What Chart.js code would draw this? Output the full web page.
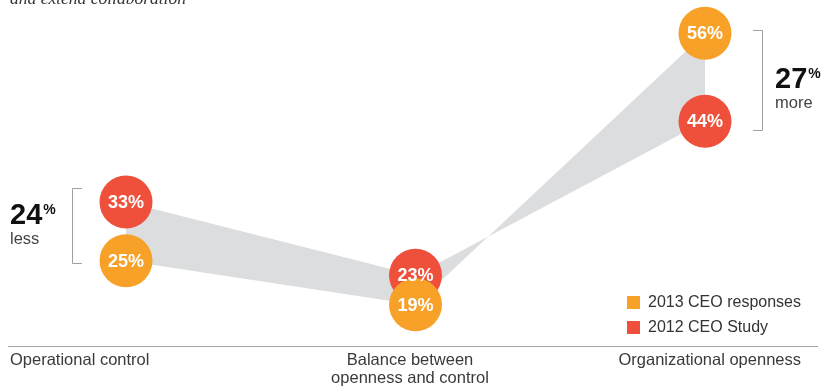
<!DOCTYPE html>
<html><head><meta charset="utf-8">
<script src="https://cdn.jsdelivr.net/npm/chart.js@4.4.1/dist/chart.umd.min.js"></script>
<style>html,body{margin:0;padding:0;background:#fff;}#wrap{position:relative;width:826px;height:388px;}</style>
</head><body><div id="wrap"><canvas id="c" width="826" height="388"></canvas></div>
<script>
const introText = 'and extend collaboration';
const categories = ['Operational control', ['Balance between', 'openness and control'], 'Organizational openness'];
const seriesNames = ['2013 CEO responses', '2012 CEO Study'];
const series2013 = [25, 19, 56];
const series2012 = [33, 23, 44];
const changeWords = ['less', 'more'];

const ORANGE = '#f7a128';
const RED = '#ef503b';
const BAND = '#dcdddf';
const FONT = '"Liberation Sans", Arial, sans-serif';

// change of 2013 relative to 2012 baseline
function pctChange(v2013, v2012) { return Math.round(Math.abs(v2013 - v2012) / v2012 * 100); }

const decor = {
  id: 'decor',
  afterDatasetsDraw(chart) {
    const ctx = chart.ctx;
    ctx.save();
    ctx.fillStyle = '#fff';
    ctx.font = 'bold 18px ' + FONT;
    ctx.textAlign = 'center';
    ctx.textBaseline = 'middle';
    [1, 0].forEach(di => {
      const meta = chart.getDatasetMeta(di);
      const data = chart.data.datasets[di].data;
      meta.data.forEach((pt, i) => {
        ctx.fillText(data[i] + '%', pt.x, pt.y + 1);
      });
    });
    ctx.restore();
  },
  afterDraw(chart) {
    const ctx = chart.ctx;
    ctx.save();
    // intro text (cut off at top)
    ctx.fillStyle = '#333';
    ctx.font = 'italic 17.5px "Liberation Serif", serif';
    ctx.textAlign = 'left';
    ctx.textBaseline = 'alphabetic';
    ctx.fillText(introText, 10, 4);

    // baseline
    ctx.strokeStyle = '#a6a6a6';
    ctx.lineWidth = 1;
    ctx.beginPath();
    ctx.moveTo(8, 346.5);
    ctx.lineTo(818, 346.5);
    ctx.stroke();

    // category labels
    ctx.fillStyle = '#3a3a3a';
    ctx.font = '16.5px ' + FONT;
    ctx.textBaseline = 'alphabetic';
    const aligns = ['left', 'center', 'right'];
    const xs = [10, 410, 801];
    categories.forEach((c, i) => {
      const lines = Array.isArray(c) ? c : [c];
      ctx.textAlign = aligns[i];
      lines.forEach((l, j) => ctx.fillText(l, xs[i], 365 + j * 18));
    });

    // legend
    const lx = 627, ly = [296, 321];
    const colors = [ORANGE, RED];
    ctx.font = '16px ' + FONT;
    seriesNames.forEach((n, i) => {
      ctx.fillStyle = colors[i];
      ctx.fillRect(lx, ly[i], 13, 13);
      ctx.fillStyle = '#333';
      ctx.textAlign = 'left';
      ctx.textBaseline = 'middle';
      ctx.fillText(n, lx + 21, ly[i] + 7);
    });

    // brackets
    ctx.strokeStyle = '#a0a0a0';
    ctx.lineWidth = 1;
    const lTop = 188, lBot = 263;
    ctx.beginPath();
    ctx.moveTo(82, lTop + 0.5); ctx.lineTo(72.5, lTop + 0.5); ctx.lineTo(72.5, lBot + 0.5); ctx.lineTo(82, lBot + 0.5);
    ctx.stroke();
    const rTop = 30, rBot = 130;
    ctx.beginPath();
    ctx.moveTo(753, rTop + 0.5); ctx.lineTo(762.5, rTop + 0.5); ctx.lineTo(762.5, rBot + 0.5); ctx.lineTo(753, rBot + 0.5);
    ctx.stroke();

    // change labels
    const leftVal = pctChange(series2013[0], series2012[0]);
    const rightVal = pctChange(series2013[2], series2012[2]);
    function changeLabel(val, word, x, y) {
      ctx.textAlign = 'left';
      ctx.textBaseline = 'alphabetic';
      ctx.fillStyle = '#111';
      ctx.font = 'bold 29px ' + FONT;
      const s = String(val);
      ctx.fillText(s, x, y);
      const w = ctx.measureText(s).width;
      ctx.font = 'bold 14px ' + FONT;
      ctx.fillText('%', x + w + 1, y - 10);
      ctx.fillStyle = '#444';
      ctx.font = '16.5px ' + FONT;
      ctx.fillText(word, x, y + 20);
    }
    changeLabel(leftVal, changeWords[0], 10, 224);
    changeLabel(rightVal, changeWords[1], 775, 88);
    ctx.restore();
  }
};

new Chart(document.getElementById('c'), {
  type: 'line',
  data: {
    labels: categories,
    datasets: [
      {
        label: seriesNames[0], data: series2013,
        backgroundColor: ORANGE, borderColor: 'rgba(0,0,0,0)', borderWidth: 0,
        pointBackgroundColor: ORANGE, pointBorderWidth: 0, pointRadius: 26.5, pointHoverRadius: 26.5,
        fill: false, tension: 0
      },
      {
        label: seriesNames[1], data: series2012,
        backgroundColor: BAND, borderColor: 'rgba(0,0,0,0)', borderWidth: 0,
        pointBackgroundColor: RED, pointBorderWidth: 0, pointRadius: 26.5, pointHoverRadius: 26.5,
        fill: '-1', tension: 0
      }
    ]
  },
  options: {
    responsive: false,
    animation: false,
    devicePixelRatio: 1,
    clip: false,
    layout: { autoPadding: false, padding: { left: 126, right: 121, top: 4, bottom: 32 } },
    scales: {
      x: { type: 'category', display: false, offset: false },
      y: { type: 'linear', display: false, min: 12, max: 60 }
    },
    plugins: {
      legend: { display: false },
      tooltip: { enabled: false },
      filler: { drawTime: 'beforeDatasetsDraw' }
    },
    events: []
  },
  plugins: [decor]
});
</script>
</body></html>
